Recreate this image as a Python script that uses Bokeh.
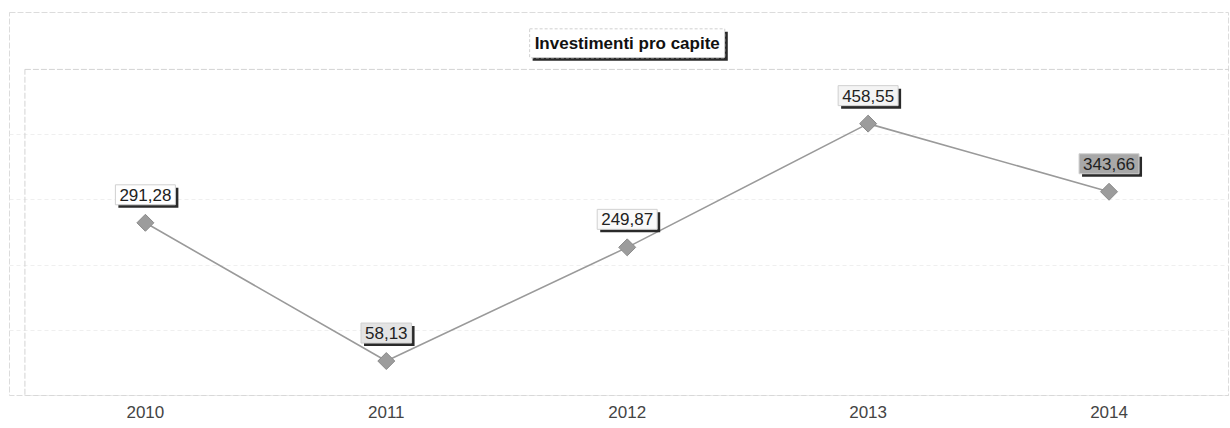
from bokeh.plotting import figure
from bokeh.models import Label, Range1d, FixedTicker
from bokeh.embed import file_html
from bokeh.resources import INLINE
import math

title_text = "Investimenti pro capite"
years = ["2010", "2011", "2012", "2013", "2014"]
values = [291.28, 58.13, 249.87, 458.55, 343.66]
label_texts = ["291,28", "58,13", "249,87", "458,55", "343,66"]
label_fills = ["#ffffff", "#e4e4e4", "#fafafa", "#f4f4f4", "#a8a8a8"]
y_max = 550
grid_ticks = [110, 220, 330, 440]

FONT = "Liberation Sans"
xs = list(range(len(years)))

# outer frame encloses the title area; the plotting area is drawn inside it
p = figure(width=1229, height=422, output_backend="svg", toolbar_location=None,
           x_range=Range1d(-0.564, len(years) - 0.5), y_range=Range1d(0, 646),
           min_border_left=9, min_border_right=0, min_border_top=12, min_border_bottom=27)
p.background_fill_color = "white"
p.border_fill_color = "white"
p.outline_line_color = "#dcdcdc"
p.outline_line_dash = "6 2"
p.outline_line_width = 1

p.yaxis.visible = False
p.xgrid.visible = False
p.ygrid.ticker = FixedTicker(ticks=grid_ticks)
p.ygrid.grid_line_color = "#efefef"
p.ygrid.grid_line_dash = "4 3"

ax = p.xaxis[0]
ax.ticker = FixedTicker(ticks=xs)
ax.major_label_overrides = {i: y for i, y in enumerate(years)}
ax.axis_line_color = None
ax.major_tick_line_color = None
ax.minor_tick_line_color = None
ax.major_label_standoff = 4
ax.major_label_text_font = FONT
ax.major_label_text_font_size = "17px"
ax.major_label_text_color = "#444444"

# plotting area border
p.quad(left=[-0.5], right=[len(years) - 0.5], bottom=[0], top=[y_max],
       fill_color=None, line_color="#d4d4d4", line_dash="6 2", line_width=1)

p.line(xs, values, line_color="#9a9a9a", line_width=1.6)
p.scatter(xs, values, marker="square", size=12, angle=math.pi / 4, fill_color="#9c9c9c",
          line_color="#8a8a8a", line_width=1)

for x, v, t, fc in zip(xs, values, label_texts, label_fills):
    sh = Label(x=x, y=v, text=t, x_offset=3, y_offset=25,
               text_align="center", text_baseline="middle",
               text_font=FONT, text_font_size="17px", text_color="#2a2a2a",
               background_fill_color="#2a2a2a", padding=4)
    lb = Label(x=x, y=v, text=t, x_offset=0, y_offset=28,
               text_align="center", text_baseline="middle",
               text_font=FONT, text_font_size="17px", text_color="#222222",
               background_fill_color=fc, border_line_color="#d0d0d0", padding=4)
    p.add_layout(sh)
    p.add_layout(lb)

tsh = Label(x=2, y=594, text=title_text, x_offset=3, y_offset=-3,
            text_align="center", text_baseline="middle",
            text_font=FONT, text_font_size="17px", text_font_style="bold", text_color="#2a2a2a",
            background_fill_color="#2a2a2a", padding=5)
tl = Label(x=2, y=594, text=title_text,
           text_align="center", text_baseline="middle",
           text_font=FONT, text_font_size="17px", text_font_style="bold", text_color="#111111",
           background_fill_color="white", border_line_color="#d0d0d0", border_line_dash="3 2",
           padding=5)
p.add_layout(tsh)
p.add_layout(tl)

open("out.html", "w").write(file_html(p, INLINE))
